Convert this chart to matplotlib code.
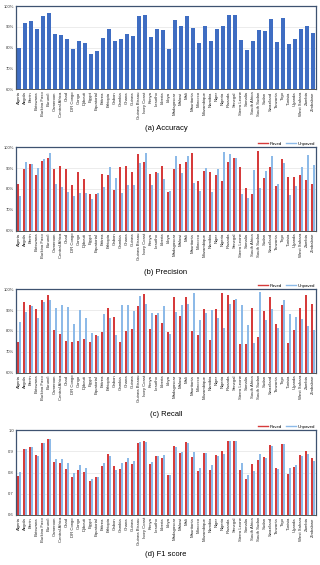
import numpy as np
import matplotlib
matplotlib.use("Agg")
import matplotlib.pyplot as plt
from matplotlib.lines import Line2D

plt.rcParams['font.family'] = ['Liberation Sans', 'DejaVu Sans']

countries = ["Algeria", "Angola", "Benin", "Botswana", "Burkina Faso", "Burundi", "Cameroon",
             "Central Africa", "Chad", "DR Congo", "Congo", "Djibouti", "Egypt", "Equatorial",
             "Eritrea", "Ethiopia", "Gabon", "Gambia", "Ghana", "Guinea", "Guinea Bissau",
             "Ivory Coast", "Kenya", "Lesotho", "Liberia", "Libya", "Madagascar", "Malawi",
             "Mali", "Mauritania", "Morocco", "Mozambique", "Namibia", "Niger", "Nigeria",
             "Rwanda", "Senegal", "Sierra Leone", "Somalia", "South Africa", "South Sudan",
             "Sudan", "Swaziland", "Tanzania", "Togo", "Tunisia", "Uganda", "West Sahara",
             "Zambia", "Zimbabwe"]

accuracy = [80.0, 92.0, 92.8, 89.0, 95.0, 96.6, 86.5, 86.3, 84.0, 79.5, 83.0, 82.0, 77.0, 78.3,
            84.6, 89.0, 83.0, 84.0, 86.7, 85.5, 95.2, 95.7, 85.0, 88.8, 88.5, 79.5, 93.3, 90.6,
            95.2, 89.4, 82.0, 90.2, 83.4, 89.0, 90.4, 95.7, 95.7, 83.7, 78.7, 83.2, 88.3, 87.8,
            93.9, 82.7, 94.2, 81.8, 84.2, 89.1, 90.4, 87.2]

prec_paved = [82.4, 89.4, 91.8, 86.7, 93.6, 94.7, 89.8, 91.2, 89.8, 81.8, 88.0, 84.6, 77.6, 77.6,
              87.2, 86.7, 79.5, 90.7, 91.0, 88.2, 96.6, 93.0, 87.4, 88.3, 91.2, 78.4, 89.6, 92.0,
              93.0, 97.3, 83.8, 88.8, 88.2, 86.9, 83.8, 93.0, 95.0, 90.6, 80.6, 77.6, 98.4, 85.4,
              90.7, 81.4, 94.2, 85.9, 85.6, 86.6, 84.3, 82.4]
prec_unpaved = [76.6, 93.1, 92.0, 90.0, 94.2, 97.1, 82.2, 81.0, 78.6, 76.6, 78.2, 78.2, 75.2, 77.9,
                81.1, 90.7, 85.4, 78.2, 81.9, 81.9, 92.6, 97.4, 81.9, 87.8, 84.8, 79.0, 95.7, 87.7,
                95.8, 82.9, 79.2, 89.9, 78.6, 89.8, 97.6, 96.8, 94.7, 77.8, 75.5, 89.1, 80.5, 88.8,
                95.8, 82.4, 92.5, 77.1, 81.4, 90.6, 96.3, 91.7]

rec_paved = [74.9, 93.8, 92.5, 90.6, 94.7, 97.3, 80.5, 78.6, 75.4, 74.7, 75.2, 76.2, 74.6, 78.1,
             79.5, 90.9, 86.9, 74.6, 79.8, 80.8, 92.2, 97.6, 81.0, 87.8, 83.8, 79.7, 96.2, 87.2,
             96.5, 80.2, 78.1, 90.4, 75.8, 90.4, 98.2, 97.3, 95.0, 73.9, 73.9, 91.2, 77.0, 89.6,
             96.3, 83.2, 92.6, 74.2, 80.5, 91.2, 97.1, 93.0]
rec_unpaved = [84.2, 89.1, 92.2, 86.2, 93.9, 95.0, 91.0, 92.5, 91.7, 83.4, 89.9, 86.2, 78.9, 77.8,
               88.3, 86.2, 78.1, 92.5, 92.5, 89.4, 96.8, 93.0, 88.5, 88.5, 92.0, 78.4, 89.1, 92.6,
               93.0, 98.1, 85.3, 88.8, 90.1, 86.4, 81.4, 93.0, 95.2, 92.5, 82.9, 74.1, 98.9, 85.3,
               90.4, 81.3, 94.7, 88.2, 86.7, 85.8, 82.4, 80.5]

f1_paved = [0.785, 0.911, 0.918, 0.884, 0.939, 0.956, 0.848, 0.845, 0.818, 0.780, 0.810, 0.802,
            0.760, 0.777, 0.830, 0.885, 0.829, 0.816, 0.849, 0.841, 0.939, 0.948, 0.838, 0.878,
            0.870, 0.788, 0.925, 0.892, 0.942, 0.874, 0.805, 0.892, 0.813, 0.882, 0.901, 0.947,
            0.948, 0.812, 0.769, 0.838, 0.860, 0.871, 0.929, 0.821, 0.932, 0.794, 0.827, 0.884,
            0.900, 0.870]
f1_unpaved = [0.802, 0.909, 0.918, 0.878, 0.939, 0.956, 0.863, 0.863, 0.845, 0.797, 0.835, 0.820,
              0.769, 0.777, 0.843, 0.879, 0.813, 0.846, 0.867, 0.854, 0.943, 0.945, 0.849, 0.878,
              0.881, 0.786, 0.918, 0.896, 0.939, 0.895, 0.819, 0.890, 0.835, 0.878, 0.885, 0.947,
              0.948, 0.843, 0.788, 0.807, 0.887, 0.867, 0.925, 0.816, 0.932, 0.821, 0.837, 0.878,
              0.885, 0.854]

pct_ticks = [60, 70, 80, 90, 100]
pct_labels = ["60%", "70%", "80%", "90%", "100%"]
f1_ticks = [0.6, 0.7, 0.8, 0.9, 1.0]
f1_labels = ["0.6", "0.7", "0.8", "0.9", "1.0"]

W, H = 320, 565
BLUE = "#3F6DC2"
RED = "#D63B3B"
LBLUE = "#8DBAE8"
FRAME = "#3E5270"

fig = plt.figure(figsize=(W / 100, H / 100), dpi=100)
x = np.arange(len(countries))


def make_ax(top, bottom):
    ax = fig.add_axes([16 / W, 1 - bottom / H, 300 / W, (bottom - top) / H])
    ax.set_xlim(-0.5, len(countries) - 0.5)
    ax.set_xticks(x)
    ax.set_xticklabels(countries, rotation=90, fontsize=3.1, color="#222222")
    ax.tick_params(axis='both', length=0, pad=1.5)
    ax.tick_params(axis='y', labelsize=3, labelcolor="#333333")
    ax.yaxis.grid(True, color="#E4E4E4", linewidth=0.5)
    ax.set_axisbelow(True)
    for s in ["top", "right", "left"]:
        ax.spines[s].set_color(FRAME)
        ax.spines[s].set_linewidth(0.9)
    ax.spines["bottom"].set_color("#555555")
    ax.spines["bottom"].set_linewidth(0.7)
    return ax


def pair_panel(top, bottom, paved, unpaved, ticks, labels):
    ax = make_ax(top, bottom)
    w = 0.41
    ax.bar(x - w / 2, paved, w, color=RED, linewidth=0)
    ax.bar(x + w / 2, unpaved, w, color=LBLUE, linewidth=0)
    ax.set_ylim(ticks[0], ticks[-1])
    ax.set_yticks(ticks)
    ax.set_yticklabels(labels)
    handles = [Line2D([], [], color=RED, lw=1), Line2D([], [], color=LBLUE, lw=1)]
    ax.legend(handles, ["Paved", "Unpaved"], loc="lower right", bbox_to_anchor=(1.0, 1.0),
              ncol=2, fontsize=3.2, frameon=False, handlelength=2.2, handletextpad=0.4,
              columnspacing=0.8, borderpad=0.2, borderaxespad=0.1)
    return ax


# (a) accuracy
ax = make_ax(6, 89.3)
ax.bar(x, accuracy, 0.72, color=BLUE, linewidth=0)
ax.set_ylim(60, 100)
ax.set_yticks(pct_ticks)
ax.set_yticklabels(pct_labels)
fig.text(166 / W, 1 - 128 / H, "(a) Accuracy", ha="center", va="center", fontsize=5.5)

# (b) precision
pair_panel(147.3, 230.7, prec_paved, prec_unpaved, pct_ticks, pct_labels)
fig.text(166 / W, 1 - 273 / H, "(b) Precision", ha="center", va="center", fontsize=5.5)

# (c) recall
pair_panel(289.3, 372.7, rec_paved, rec_unpaved, pct_ticks, pct_labels)
fig.text(166 / W, 1 - 415 / H, "(c) Recall", ha="center", va="center", fontsize=5.5)

# (d) F1 score
pair_panel(430, 515, f1_paved, f1_unpaved, f1_ticks, f1_labels)
fig.text(166 / W, 1 - 555 / H, "(d) F1 score", ha="center", va="center", fontsize=5.5)

fig.savefig("out.png", dpi=100)
